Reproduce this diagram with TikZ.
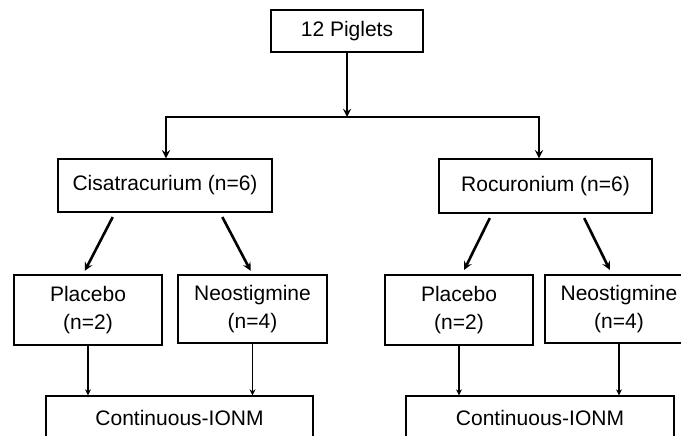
\documentclass[tikz,border=0pt]{standalone}
\usepackage{fontspec}
\setmainfont{Liberation Sans}
\usepackage{tikz}
\usetikzlibrary{arrows.meta}

\tikzset{
    box/.style={draw, line width=1.3pt, align=center, inner sep=0pt,
        font=\fontsize{21}{28}\selectfont},
    bold/.style={->, line width=2.6pt},
    fine/.style={-{Stealth[length=6pt, width=6pt]}, line width=1.1pt}
}

\begin{document}
\begin{tikzpicture}[x=1pt, y=-1pt, >=stealth]
    \useasboundingbox (0, 0) rectangle (681, 436);
    \clip (0, 0) rectangle (681, 436);

    \node[box, minimum width=152, minimum height=42] (piglets) at (347, 31) {12 Piglets};

    \node[box, minimum width=214, minimum height=53] (cisa) at (165, 185.5) {Cisatracurium (n=6)};
    \node[box, minimum width=213, minimum height=54] (rocu) at (545.5, 186) {Rocuronium (n=6)};

    \node[box, minimum width=148, minimum height=70] (placA) at (88, 310) {Placebo\\(n=2)};
    \node[box, minimum width=149, minimum height=68] (neoA) at (252.5, 309) {Neostigmine\\(n=4)};
    \node[box, minimum width=148, minimum height=70] (placB) at (459, 310) {Placebo\\(n=2)};
    \node[box, minimum width=148, minimum height=68] (neoB) at (619, 309) {Neostigmine\\(n=4)};

    \node[box, minimum width=267, minimum height=44] (ionmA) at (179.5, 418) {Continuous-IONM};
    \node[box, minimum width=268, minimum height=44] (ionmB) at (540, 418) {Continuous-IONM};

    % split below the piglets
    \coordinate (split) at (347, 117);
    \draw[bold] (piglets) -- (split);
    \draw[bold] (split) -| ([xshift=1pt]cisa.north);
    \draw[bold] (split) -| ([xshift=-6.5pt]rocu.north);

    % drug -> treatment
    \draw[bold, shorten <=5pt, shorten >=4pt] ([xshift=-50pt]cisa.south) -- ([xshift=-5pt]placA.north);
    \draw[bold, shorten <=5pt, shorten >=4pt] ([xshift=55pt]cisa.south) -- ([xshift=0pt]neoA.north);
    \draw[bold, shorten <=5pt, shorten >=5pt] ([xshift=-53.5pt]rocu.south) -- ([xshift=3pt]placB.north);
    \draw[bold, shorten <=5pt, shorten >=5pt] ([xshift=36.5pt]rocu.south) -- ([xshift=-7pt]neoB.north);

    % treatment -> monitoring
    \draw[fine] (placA) -- (placA |- ionmA.north);
    \draw[fine] (neoA) -- (neoA |- ionmA.north);
    \draw[fine] (placB) -- (placB |- ionmB.north);
    \draw[fine] (neoB) -- (neoB |- ionmB.north);
\end{tikzpicture}
\end{document}
